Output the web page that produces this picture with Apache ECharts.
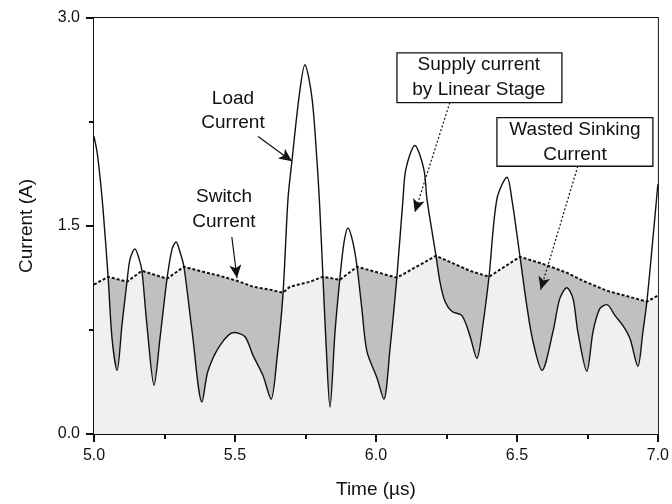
<!DOCTYPE html>
<html>
<head>
<meta charset="utf-8">
<script src="https://cdn.jsdelivr.net/npm/echarts@6/dist/echarts.min.js"></script>
<style>
  html, body { margin: 0; padding: 0; background: #fff; }
  #chart { width: 672px; height: 504px; }
</style>
</head>
<body>
<div id="chart"></div>
<script>
// Load current waveform (A) against time (µs)
const loadTime = [
  5.000, 5.011, 5.021, 5.032, 5.050, 5.064, 5.082, 5.099, 5.117, 5.128, 5.145, 5.160, 5.170, 5.188,
  5.213, 5.234, 5.259, 5.277, 5.291, 5.305, 5.319, 5.348, 5.383, 5.404, 5.447, 5.496, 5.535, 5.564,
  5.599, 5.628, 5.649, 5.670, 5.688, 5.702, 5.727, 5.748, 5.773, 5.791, 5.801, 5.812, 5.823, 5.837,
  5.855, 5.872, 5.887, 5.901, 5.918, 5.933, 5.950, 5.968, 6.004, 6.028, 6.050, 6.074, 6.096, 6.106,
  6.138, 6.170, 6.181, 6.213, 6.227, 6.245, 6.270, 6.305, 6.333, 6.358, 6.379, 6.401, 6.429, 6.465,
  6.482, 6.511, 6.535, 6.557, 6.589, 6.628, 6.652, 6.677, 6.699, 6.716, 6.748, 6.770, 6.794, 6.819,
  6.848, 6.876, 6.901, 6.929, 6.947, 6.961, 6.979, 7.000
];
const loadCurrent = [
  2.146, 2.031, 1.859, 1.622, 1.134, 0.689, 0.459, 0.782, 1.098, 1.263, 1.335, 1.263, 1.177, 0.782,
  0.352, 0.689, 1.120, 1.335, 1.385, 1.313, 1.206, 0.739, 0.230, 0.452, 0.639, 0.732, 0.703, 0.567,
  0.423, 0.251, 0.545, 0.998, 1.694, 1.967, 2.426, 2.663, 2.426, 1.967, 1.622, 1.134, 0.653, 0.194,
  0.739, 1.120, 1.385, 1.486, 1.385, 1.206, 0.904, 0.596, 0.402, 0.251, 0.617, 1.127, 1.694, 1.909,
  2.081, 1.909, 1.694, 1.285, 1.098, 0.955, 0.883, 0.854, 0.711, 0.545, 0.782, 1.134, 1.694, 1.852,
  1.694, 1.278, 0.926, 0.667, 0.459, 0.739, 0.976, 1.055, 0.976, 0.739, 0.452, 0.739, 0.904, 0.933,
  0.854, 0.782, 0.689, 0.488, 0.739, 0.955, 1.335, 1.801
];

// Switch current (A) against time (µs)
const switchTime = [
  5.000, 5.050, 5.117, 5.170, 5.259, 5.319, 5.387, 5.447, 5.507, 5.564, 5.624, 5.670, 5.695, 5.766,
  5.812, 5.872, 5.933, 6.074, 6.213, 6.333, 6.401, 6.511, 6.592, 6.677, 6.734, 6.819, 6.961, 7.000
];
const switchCurrent = [
  1.077, 1.134, 1.098, 1.177, 1.120, 1.206, 1.170, 1.140, 1.105, 1.062, 1.041, 1.019, 1.062, 1.098,
  1.134, 1.112, 1.206, 1.127, 1.285, 1.177, 1.134, 1.278, 1.227, 1.163, 1.105, 1.033, 0.955, 0.998
];

const xTickLabels = ['5.0', '5.5', '6.0', '6.5', '7.0'];
const yTickLabels = ['0.0', '1.5', '3.0'];

const FONT = '"Liberation Sans", Arial, Helvetica, sans-serif';
const INK = '#111';

const pair = (xs, ys) => xs.map((x, i) => [x, ys[i]]);
const loadData = pair(loadTime, loadCurrent);
const switchData = pair(switchTime, switchCurrent);

// Callout texts, anchored in data units
const callouts = [
  { lines: ['Load', 'Current'], at: [5.493, 2.419], step: 0.173 },
  { lines: ['Switch', 'Current'], at: [5.461, 1.708], step: 0.179 },
  { lines: ['Supply current', 'by Linear Stage'], at: [6.365, 2.663], step: 0.180,
    box: [[6.0745, 2.749], [6.6596, 2.390]] },
  { lines: ['Wasted Sinking', 'Current'], at: [6.706, 2.196], step: 0.179,
    box: [[6.4291, 2.282], [6.9823, 1.931]] }
];

// Pointer lines from callouts to curves
const pointers = [
  { from: [5.582, 2.146], to: [5.702, 1.967], type: 'solid' },
  { from: [5.489, 1.421], to: [5.507, 1.125], type: 'solid' },
  { from: [6.262, 2.390], to: [6.138, 1.600], type: [2, 2] },
  { from: [6.716, 1.931], to: [6.584, 1.040], type: [2, 2] }
];

const chart = echarts.init(document.getElementById('chart'), null, { renderer: 'canvas' });

const axisCommon = {
  axisLine: { show: true, onZero: false, lineStyle: { color: INK, width: 2 } },
  axisTick: { show: true, inside: false, length: 8, lineStyle: { color: INK, width: 2 } },
  minorTick: { show: true, splitNumber: 2, length: 5, lineStyle: { color: INK, width: 2 } },
  splitLine: { show: false },
  minorSplitLine: { show: false },
  nameTextStyle: { fontFamily: FONT, fontSize: 19, color: INK }
};

const SMOOTH = 0.3;

chart.setOption({
  animation: false,
  backgroundColor: '#fff',
  grid: {
    left: 94, right: 14, top: 18, bottom: 68,
    show: true, borderColor: INK, borderWidth: 2, backgroundColor: 'transparent'
  },
  xAxis: Object.assign({}, axisCommon, {
    type: 'value', min: 5, max: 7, interval: 0.5,
    name: 'Time (µs)', nameLocation: 'middle', nameGap: 46,
    axisLabel: {
      margin: 14, fontFamily: FONT, fontSize: 16, color: INK,
      formatter: (v) => xTickLabels[Math.round((v - 5) / 0.5)]
    }
  }),
  yAxis: Object.assign({}, axisCommon, {
    type: 'value', min: 0, max: 3, interval: 1.5,
    name: 'Current (A)', nameLocation: 'middle', nameGap: 58,
    axisLabel: {
      margin: 14, fontFamily: FONT, fontSize: 16, color: INK,
      formatter: (v) => yTickLabels[Math.round(v / 1.5)]
    }
  }),
  series: [
    { // region under the switch current
      type: 'line', data: switchData, symbol: 'none', silent: true,
      lineStyle: { width: 0 }, areaStyle: { color: '#c0c0c0', opacity: 1, origin: 'start' }
    },
    { // region under the load current
      type: 'line', data: loadData, symbol: 'none', silent: true, smooth: SMOOTH,
      lineStyle: { width: 0 }, areaStyle: { color: '#f0f0f0', opacity: 1, origin: 'start' }
    },
    { // clear everything above the switch current
      type: 'line', data: switchData, symbol: 'none', silent: true,
      lineStyle: { width: 0 }, areaStyle: { color: '#ffffff', opacity: 1, origin: 'end' }
    },
    { // load current trace
      name: 'Load Current', type: 'line', data: loadData, symbol: 'none', silent: true, smooth: SMOOTH,
      lineStyle: { color: INK, width: 1.4 }
    },
    { // switch current trace
      name: 'Switch Current', type: 'line', data: switchData, symbol: 'none', silent: true,
      lineStyle: { color: INK, width: 2, type: [3, 2] },
      markLine: {
        silent: true, animation: false,
        label: { show: false },
        data: pointers.map(p => [
          { coord: p.from, symbol: 'none', lineStyle: { color: INK, width: 1.2, type: p.type } },
          { coord: p.to, symbol: 'arrow', symbolSize: [9, 13] }
        ])
      }
    }
  ]
});

// Callout text and boxes, positioned through the grid's coordinate system
const px = (pt) => chart.convertToPixel({ gridIndex: 0 }, pt);
const graphics = [];
callouts.forEach(c => {
  if (c.box) {
    const a = px(c.box[0]), b = px(c.box[1]);
    graphics.push({
      type: 'rect', z: 100,
      shape: { x: a[0], y: a[1], width: b[0] - a[0], height: b[1] - a[1] },
      style: { fill: '#fff', stroke: INK, lineWidth: 1.3 }
    });
  }
  c.lines.forEach((t, i) => {
    const p = px([c.at[0], c.at[1] - i * c.step]);
    graphics.push({
      type: 'text', z: 101, x: p[0], y: p[1],
      style: { text: t, fill: INK, font: '19px ' + FONT, textAlign: 'center', textVerticalAlign: 'middle' }
    });
  });
});
chart.setOption({ graphic: graphics });
</script>
</body>
</html>
